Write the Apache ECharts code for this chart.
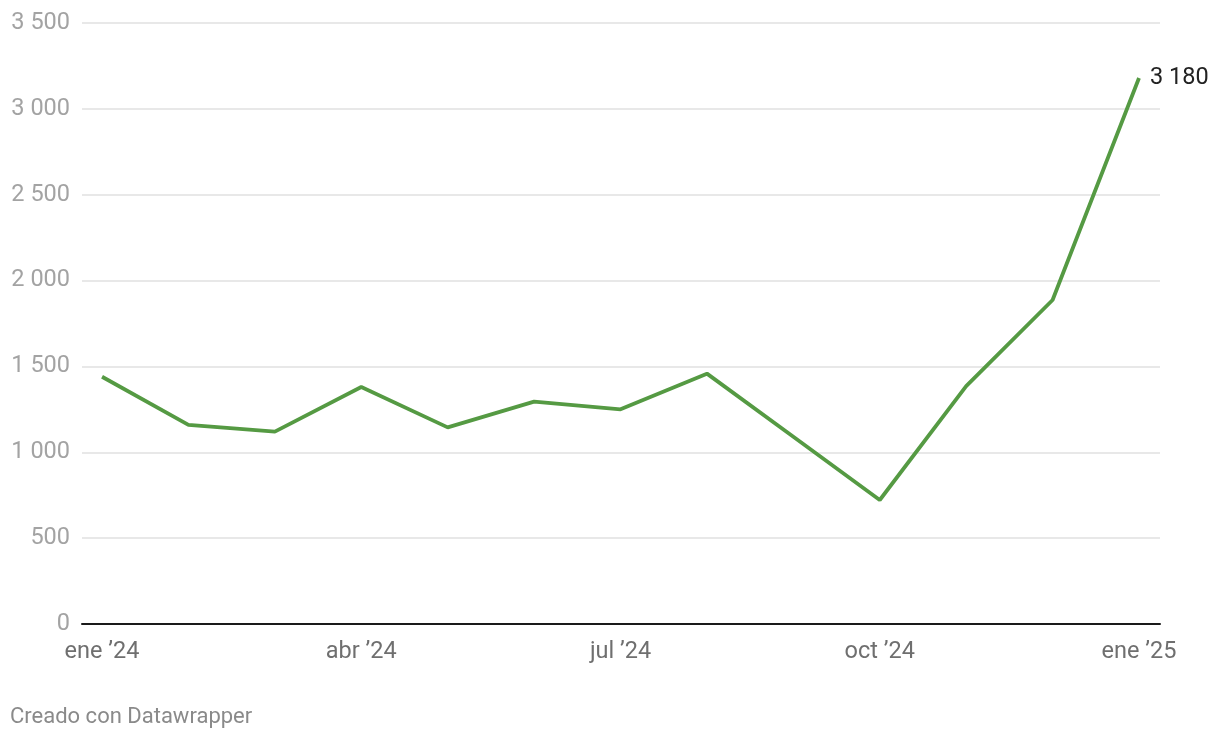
<!DOCTYPE html>
<html><head><meta charset="utf-8">
<script src="https://cdn.jsdelivr.net/npm/echarts@6/dist/echarts.min.js"></script>
<style>html,body{margin:0;padding:0;background:#fff}#c{width:1220px;height:740px}</style>
</head><body><div id="c"></div>
<script>
const months = ["ene ’24","feb ’24","mar ’24","abr ’24","may ’24","jun ’24","jul ’24","ago ’24","sep ’24","oct ’24","nov ’24","dic ’24","ene ’25"];
const values = [1440, 1160, 1120, 1380, 1145, 1295, 1250, 1458, 1090, 722, 1385, 1887, 3180];
const xTickIdx = [0, 3, 6, 9, 12];
const yTicks = [0, 500, 1000, 1500, 2000, 2500, 3000, 3500];

const fmt = v => String(v).replace(/\B(?=(\d{3})+(?!\d))/g, ' ');
const data = values.map((v, i) => [i, v]);
const last = data.length - 1;

const chart = echarts.init(document.getElementById('c'));
chart.setOption({
  animation: false,
  textStyle: { fontFamily: 'Roboto' },
  grid: { left: 82, right: 60, top: 23, bottom: 116, containLabel: false },
  xAxis: {
    type: 'value', min: -0.232, max: 12.243,
    axisLine: { show: true, onZero: false, lineStyle: { color: '#1a1a1a', width: 2 } },
    axisTick: { show: false },
    splitLine: { show: false },
    axisLabel: {
      customValues: xTickIdx, color: '#6f6f6f', fontSize: 23.5, margin: 16,
      formatter: v => months[Math.round(v)]
    }
  },
  yAxis: {
    type: 'value', min: 0, max: 3500, interval: 500,
    axisLine: { show: false }, axisTick: { show: false },
    splitLine: { lineStyle: { color: '#e0e0e0', width: 1.5 } },
    axisLabel: { color: '#a3a3a3', fontSize: 23.5, margin: 12, padding: [2, 0, 0, 0], formatter: v => fmt(v) }
  },
  series: [{
    type: 'line', data: data, symbol: 'none',
    lineStyle: { color: '#559a43', width: 3.8 },
    z: 3,
    markPoint: {
      symbol: 'circle', symbolSize: 0,
      data: [{ coord: data[last], value: values[last] }],
      label: { show: true, position: 'right', distance: 11, color: '#222', fontSize: 23.5, formatter: p => fmt(p.value) }
    }
  }],
  graphic: [{
    type: 'text', left: 10, top: 706,
    style: { text: 'Creado con Datawrapper', fill: '#8a8a8a', font: '22px Roboto' }
  }]
});
</script></body></html>
